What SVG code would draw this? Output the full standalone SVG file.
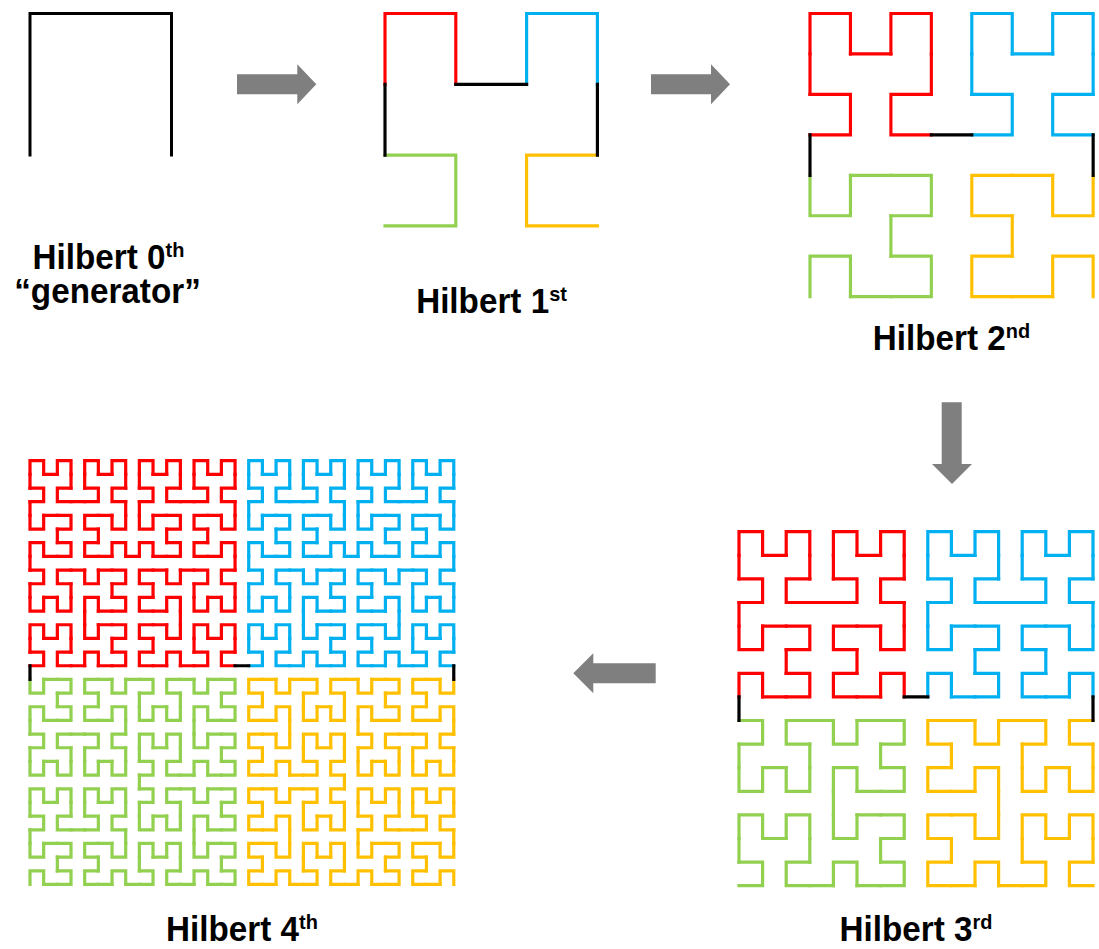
<svg xmlns="http://www.w3.org/2000/svg" xmlns:xlink="http://www.w3.org/1999/xlink" width="1099" height="949" viewBox="0 0 1099 949">
<style>
path.c{fill:none;stroke-linejoin:miter;stroke-linecap:square}
.r{stroke:#FF0000}.b{stroke:#00B0F0}.g{stroke:#92D050}.y{stroke:#FFC000}.k{stroke:#000000}
.arrow{fill:#7F7F7F}
.lbl{font-family:"Liberation Sans",Arial,sans-serif;font-weight:bold;font-size:35px;fill:#000;text-anchor:middle}
.sup{font-size:21px}
</style>
<defs>
<path id="H1" class="c" fill="none" stroke-linecap="square" d="M0 1V0H1V1"/>
<g id="H2">
<use href="#H1" transform="matrix(0,-1,-1,0,1,3)"/>
<use href="#H1"/>
<use href="#H1" transform="translate(2,0)"/>
<use href="#H1" transform="matrix(0,1,1,0,2,2)"/>
<path class="c" fill="none" stroke-linecap="square" d="M0 2V1M1 1H2M3 1V2"/>
</g>
<g id="H3">
<use href="#H2" transform="matrix(0,-1,-1,0,3,7)"/>
<use href="#H2"/>
<use href="#H2" transform="translate(4,0)"/>
<use href="#H2" transform="matrix(0,1,1,0,4,4)"/>
<path class="c" fill="none" stroke-linecap="square" d="M0 4V3M3 3H4M7 3V4"/>
</g>
<g id="H4">
<use href="#H3" transform="matrix(0,-1,-1,0,7,15)"/>
<use href="#H3"/>
<use href="#H3" transform="translate(8,0)"/>
<use href="#H3" transform="matrix(0,1,1,0,8,8)"/>
<path class="c" fill="none" stroke-linecap="square" d="M0 8V7M7 7H8M15 7V8"/>
</g>
</defs>

<g id="hilbert0" transform="translate(30,13.5) scale(141.5)" stroke-width="0.0212">
<use href="#H1" class="k"/>
</g>

<g id="hilbert1" transform="translate(385,13.5) scale(70.8)" stroke-width="0.0445">
<use href="#H1" class="g" transform="matrix(0,-1,-1,0,1,3)"/>
<use href="#H1" class="r"/>
<use href="#H1" class="b" transform="translate(2,0)"/>
<use href="#H1" class="y" transform="matrix(0,1,1,0,2,2)"/>
<path class="c k" d="M0 2V1M1 1H2M3 1V2"/>
</g>

<g id="hilbert2" transform="translate(810,13.5) scale(40.45)" stroke-width="0.0779">
<use href="#H2" class="g" transform="matrix(0,-1,-1,0,3,7)"/>
<use href="#H2" class="r"/>
<use href="#H2" class="b" transform="translate(4,0)"/>
<use href="#H2" class="y" transform="matrix(0,1,1,0,4,4)"/>
<path class="c k" d="M0 4V3M3 3H4M7 3V4"/>
</g>

<g id="hilbert3" transform="translate(739,531.7) scale(23.6)" stroke-width="0.1356">
<use href="#H3" class="g" transform="matrix(0,-1,-1,0,7,15)"/>
<use href="#H3" class="r"/>
<use href="#H3" class="b" transform="translate(8,0)"/>
<use href="#H3" class="y" transform="matrix(0,1,1,0,8,8)"/>
<path class="c k" d="M0 8V7M7 7H8M15 7V8"/>
</g>

<g id="hilbert4" transform="translate(30,460.7) scale(13.67)" stroke-width="0.234">
<use href="#H4" class="g" transform="matrix(0,-1,-1,0,15,31)"/>
<use href="#H4" class="r"/>
<use href="#H4" class="b" transform="translate(16,0)"/>
<use href="#H4" class="y" transform="matrix(0,1,1,0,16,16)"/>
<path class="c k" d="M0 16V15M15 15H16M31 15V16"/>
</g>

<g id="connectors">
<path class="arrow" d="M237 74.3H297.3V64.3L316.3 84.3L297.3 104.3V94.3H237Z"/>
<path class="arrow" d="M651 74.3H711V64.3L730 84.3L711 104.3V94.3H651Z"/>
<path class="arrow" d="M941.7 402.3H961.7V464H972L952 484L932 464H941.7Z"/>
<path class="arrow" d="M655.7 663.3V683.3H593.3V693.3L573.3 673.3L593.3 653.3V663.3Z"/>
</g>

<g id="labels">
<text class="lbl" transform="translate(108.5,269) scale(0.95,1)">Hilbert 0<tspan class="sup" dy="-12">th</tspan></text>
<text class="lbl" transform="translate(107.5,303) scale(0.95,1)">“generator”</text>
<text class="lbl" transform="translate(491.5,313) scale(0.95,1)">Hilbert 1<tspan class="sup" dy="-12">st</tspan></text>
<text class="lbl" transform="translate(951.5,350) scale(0.95,1)">Hilbert 2<tspan class="sup" dy="-12">nd</tspan></text>
<text class="lbl" transform="translate(916,941) scale(0.95,1)">Hilbert 3<tspan class="sup" dy="-12">rd</tspan></text>
<text class="lbl" transform="translate(242,941) scale(0.95,1)">Hilbert 4<tspan class="sup" dy="-12">th</tspan></text>
</g>
</svg>
